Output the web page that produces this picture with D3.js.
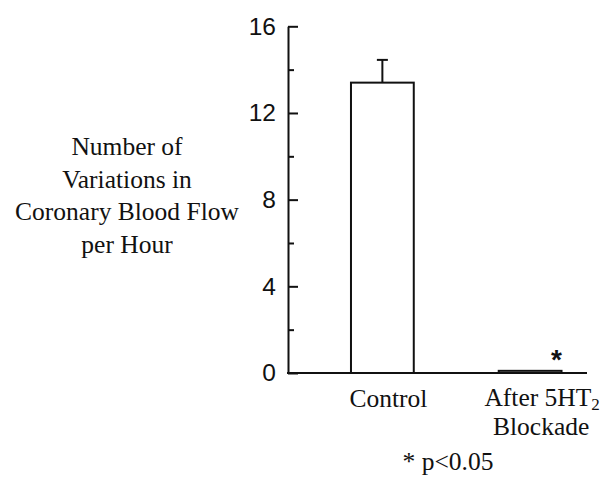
<!DOCTYPE html>
<html>
<head>
<meta charset="utf-8">
<script src="https://cdn.jsdelivr.net/npm/d3@7"></script>
<style>
  html, body { margin: 0; padding: 0; background: #fff; }
  svg { display: block; }
</style>
</head>
<body>
<svg id="chart" width="604" height="484"></svg>
<script>
// ---- data ----
const categories = ["Control", "After 5HT2 Blockade"];
const means = [13.4, 0.1];
const errors = [1.05, 0];
const significant = [false, true];
const majorTicks = [0, 4, 8, 12, 16];
const minorTicks = [2, 6, 10, 14];
const yLabelLines = ["Number of", "Variations in", "Coronary Blood Flow", "per Hour"];
const footnote = "* p<0.05";

// ---- layout ----
const svg = d3.select("#chart");
const axisX = 288, baseY = 373, topY = 26.3, axisRightEnd = 587;

const y = d3.scaleLinear().domain([0, 16]).range([baseY, topY]);
const x = d3.scaleBand().domain(categories)
  .range([308.5, 604]).paddingInner(0.575).paddingOuter(0.2875);

const serif = "'Liberation Serif', 'Times New Roman', serif";
const sans = "'Liberation Sans', Arial, Helvetica, sans-serif";
const serifSize = 25.5;

// y axis (major)
const yAxis = svg.append("g").attr("transform", `translate(${axisX},0)`)
  .call(d3.axisLeft(y).tickValues(majorTicks).tickSize(-10).tickSizeOuter(0).tickPadding(12).tickFormat(d3.format("d")));
yAxis.select(".domain").attr("stroke", "#111").attr("stroke-width", 2);
yAxis.selectAll(".tick line").attr("stroke", "#111").attr("stroke-width", 2);
yAxis.selectAll(".tick text").attr("font-family", sans).attr("font-size", 24.5).attr("fill", "#111");

// y axis (minor)
const yMinor = svg.append("g").attr("transform", `translate(${axisX},0)`)
  .call(d3.axisLeft(y).tickValues(minorTicks).tickSize(-6).tickSizeOuter(0).tickFormat(""));
yMinor.select(".domain").remove();
yMinor.selectAll(".tick line").attr("stroke", "#111").attr("stroke-width", 2);

// x baseline
svg.append("line")
  .attr("x1", axisX - 1).attr("x2", axisRightEnd)
  .attr("y1", y(0)).attr("y2", y(0))
  .attr("stroke", "#111").attr("stroke-width", 2);

// bars
svg.selectAll("rect.bar").data(categories).join("rect")
  .attr("class", "bar")
  .attr("x", d => x(d))
  .attr("width", x.bandwidth())
  .attr("y", (d, i) => y(means[i]))
  .attr("height", (d, i) => y(0) - y(means[i]))
  .attr("fill", "#fff")
  .attr("stroke", "#111")
  .attr("stroke-width", 2);

// error bars
categories.forEach((c, i) => {
  if (errors[i] > 0) {
    const cx = x(c) + x.bandwidth() / 2;
    svg.append("line").attr("x1", cx).attr("x2", cx)
      .attr("y1", y(means[i])).attr("y2", y(means[i] + errors[i]))
      .attr("stroke", "#111").attr("stroke-width", 2);
    svg.append("line").attr("x1", cx - 5.5).attr("x2", cx + 5.5)
      .attr("y1", y(means[i] + errors[i])).attr("y2", y(means[i] + errors[i]))
      .attr("stroke", "#111").attr("stroke-width", 2);
  }
  if (significant[i]) {
    svg.append("text")
      .attr("x", x(c) + x.bandwidth() - 5)
      .attr("y", y(means[i]) - 2)
      .attr("text-anchor", "middle")
      .attr("font-family", sans).attr("font-size", 28).attr("font-weight", "bold")
      .attr("fill", "#111")
      .text("*");
  }
});

// category labels
const cx0 = x(categories[0]) + x.bandwidth() / 2;
const cx1 = x(categories[1]) + x.bandwidth() / 2;
svg.append("text").attr("x", cx0 + 6).attr("y", 407)
  .attr("text-anchor", "middle").attr("font-family", serif).attr("font-size", serifSize).attr("fill", "#111")
  .text("Control");
const t2 = svg.append("text").attr("x", cx1 + 12).attr("y", 406)
  .attr("text-anchor", "middle").attr("font-family", serif).attr("font-size", serifSize).attr("fill", "#111");
t2.append("tspan").text("After 5HT");
t2.append("tspan").attr("font-size", 17).attr("dy", 4).text("2");
svg.append("text").attr("x", cx1 + 11).attr("y", 435)
  .attr("text-anchor", "middle").attr("font-family", serif).attr("font-size", serifSize).attr("fill", "#111")
  .text("Blockade");

// footnote
svg.append("text").attr("x", 448).attr("y", 470)
  .attr("text-anchor", "middle").attr("font-family", serif).attr("font-size", serifSize).attr("fill", "#111")
  .text(footnote);

// y label
const yl = svg.append("text").attr("text-anchor", "middle")
  .attr("font-family", serif).attr("font-size", serifSize).attr("fill", "#111");
yLabelLines.forEach((l, i) => {
  yl.append("tspan").attr("x", 127).attr("y", 155 + i * 32.5).text(l);
});
</script>
</body>
</html>
